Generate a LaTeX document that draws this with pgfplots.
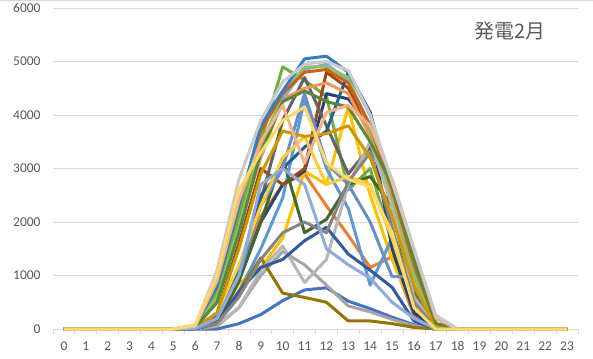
\documentclass[border=0pt]{standalone}
\usepackage{pgfplots}
\pgfplotsset{compat=1.18}
\usepackage{pgfplotstable}
\usepackage{fontspec}
\setmainfont{Carlito}
\newfontfamily\cjk{Noto Sans CJK JP}
\definecolor{c1}{HTML}{4472C4}
\definecolor{c2}{HTML}{ED7D31}
\definecolor{c3}{HTML}{A5A5A5}
\definecolor{c4}{HTML}{FFC000}
\definecolor{c5}{HTML}{5B9BD5}
\definecolor{c6}{HTML}{70AD47}
\definecolor{c7}{HTML}{264478}
\definecolor{c8}{HTML}{9E480E}
\definecolor{c9}{HTML}{636363}
\definecolor{c10}{HTML}{997300}
\definecolor{c11}{HTML}{255E91}
\definecolor{c12}{HTML}{43682B}
\definecolor{c13}{HTML}{698ED0}
\definecolor{c14}{HTML}{F1975A}
\definecolor{c15}{HTML}{B7B7B7}
\definecolor{c16}{HTML}{FFCD33}
\definecolor{c17}{HTML}{7CAFDD}
\definecolor{c18}{HTML}{8CC168}
\definecolor{c19}{HTML}{335AA1}
\definecolor{c20}{HTML}{D36012}
\definecolor{c21}{HTML}{848484}
\definecolor{c22}{HTML}{CC9A00}
\definecolor{c23}{HTML}{327EC2}
\definecolor{c24}{HTML}{5A8A39}
\definecolor{c25}{HTML}{8FAADC}
\definecolor{c26}{HTML}{F4B184}
\definecolor{c27}{HTML}{C9C9C9}
\definecolor{c28}{HTML}{FFD966}
\definecolor{gridc}{HTML}{D9D9D9}
\definecolor{txt}{HTML}{595959}
\pgfplotstableread{
h s1 s2 s3 s4 s5 s6 s7 s8 s9 s10 s11 s12 s13 s14 s15 s16 s17 s18 s19 s20 s21 s22 s23 s24 s25 s26 s27 s28
0 0 0 0 0 0 0 0 0 0 0 0 0 0 0 0 0 0 0 0 0 0 0 0 0 0 0 0 0
1 0 0 0 0 0 0 0 0 0 0 0 0 0 0 0 0 0 0 0 0 0 0 0 0 0 0 0 0
2 0 0 0 0 0 0 0 0 0 0 0 0 0 0 0 0 0 0 0 0 0 0 0 0 0 0 0 0
3 0 0 0 0 0 0 0 0 0 0 0 0 0 0 0 0 0 0 0 0 0 0 0 0 0 0 0 0
4 0 0 0 0 0 0 0 0 0 0 0 0 0 0 0 0 0 0 0 0 0 0 0 0 0 0 0 0
5 0 0 0 0 0 0 0 0 0 0 0 0 0 0 0 0 0 0 0 0 0 0 0 0 0 0 0 0
6 0 20 0 10 10 40 10 20 10 0 20 10 10 30 0 20 40 40 0 50 10 20 50 30 10 50 60 80
7 0 250 50 150 150 700 250 300 150 150 300 100 200 500 80 300 500 600 100 800 100 300 800 500 200 900 1100 1000
8 100 1100 400 850 700 2100 900 1600 900 700 1100 900 1000 1900 400 1200 1800 1900 700 2300 600 1500 2300 1800 1000 2400 2800 2600
9 270 2100 1000 1150 1500 3500 2000 3000 2400 1330 2500 2000 2300 3200 1100 2300 3300 3400 1150 3700 1300 2900 3800 3300 2700 3500 3900 3300
10 530 2700 1450 1700 2450 4900 2700 2700 3900 670 3000 3200 3000 4300 1550 3200 4300 4400 1300 4400 1800 3700 4450 4250 3000 4180 4620 3900
11 730 2900 1200 2950 4300 4650 2950 3000 4700 590 3400 1800 4400 4500 870 3600 4850 4900 1650 4800 2000 3600 5050 4450 2700 3100 4950 4150
12 770 2300 820 2700 3000 4350 4400 4800 3800 500 3700 2050 3100 4600 1300 2700 4950 4900 1900 4850 1800 3650 5100 4250 1500 4050 5000 3100
13 520 1750 430 4150 2250 2600 4300 4500 2900 150 4800 2700 2700 4400 2700 2850 4650 4700 1400 4600 2750 3800 4800 4150 1200 4180 4830 2800
14 380 1150 320 2500 820 3000 3800 3700 3400 150 4050 2850 2000 3600 3500 2700 3800 3700 1100 3800 3300 3200 4000 3500 950 3800 4000 2650
15 220 1350 180 1300 1700 1600 1500 2400 2500 100 2500 2300 980 2300 2300 1700 2600 2500 780 2600 1900 2100 2700 2700 500 2800 2750 1800
16 80 250 60 350 300 500 300 900 700 30 800 400 980 900 600 450 1100 1000 150 1200 500 800 1400 1300 200 1500 1480 400
17 0 0 0 0 0 50 20 50 30 0 80 50 nan 50 30 0 100 80 0 100 20 50 200 100 0 200 260 0
18 0 0 0 0 0 0 0 0 0 0 0 0 nan 0 0 0 0 0 0 0 0 0 0 0 0 0 0 0
19 0 0 0 0 0 0 0 0 0 0 0 0 nan 0 0 0 0 0 0 0 0 0 0 0 0 0 0 0
20 0 0 0 0 0 0 0 0 0 0 0 0 nan 0 0 0 0 0 0 0 0 0 0 0 0 0 0 0
21 0 0 0 0 0 0 0 0 0 0 0 0 nan 0 0 0 0 0 0 0 0 0 0 0 0 0 0 0
22 0 0 0 0 0 0 0 0 0 0 0 0 nan 0 0 0 0 0 0 0 0 0 0 0 0 0 0 0
23 0 0 0 0 0 0 0 0 0 0 0 0 nan 0 0 0 0 0 0 0 0 0 0 0 0 0 0 0
}\data
\begin{document}
\begin{tikzpicture}
\useasboundingbox (-53bp,-30bp) rectangle (540bp,329bp);
\begin{axis}[
  scale only axis, width=525bp, height=321bp,
  xmin=-0.5, xmax=23.5, ymin=0, ymax=6000,
  clip=false,
  axis lines*=left,
  y axis line style={draw=none},
  x axis line style={draw=gridc, line width=0.75bp},
  xtick={0,...,23}, ytick={0,1000,...,6000},
  minor xtick={-0.5,0.5,...,23.5},
  major tick length=0pt, minor tick length=5bp, tick align=outside,
  minor x tick style={draw=gridc, line width=0.75bp},
  ytick style={draw=none},
  ymajorgrids, major grid style={draw=gridc, line width=0.75bp},
  /pgf/number format/assume math mode=true,
  /pgf/number format/1000 sep={},
  tick label style={font=\fontsize{13.5}{15}\selectfont, text=txt},
  xticklabel style={yshift=-9bp},
  yticklabel style={xshift=-9bp},
]
\pgfplotsinvokeforeach{1,...,28}{
  \addplot[color=c#1, line width=3bp, line join=round, no markers] table[x=h, y=s#1] {\data};
}
\node[text=txt, font=\cjk\fontsize{20}{24}\selectfont] at (axis cs:20.4,5570) {発電2月};
\end{axis}
\draw[gridc, line width=1bp] (-53bp,328.5bp) -- (540bp,328.5bp);
\end{tikzpicture}
\end{document}
